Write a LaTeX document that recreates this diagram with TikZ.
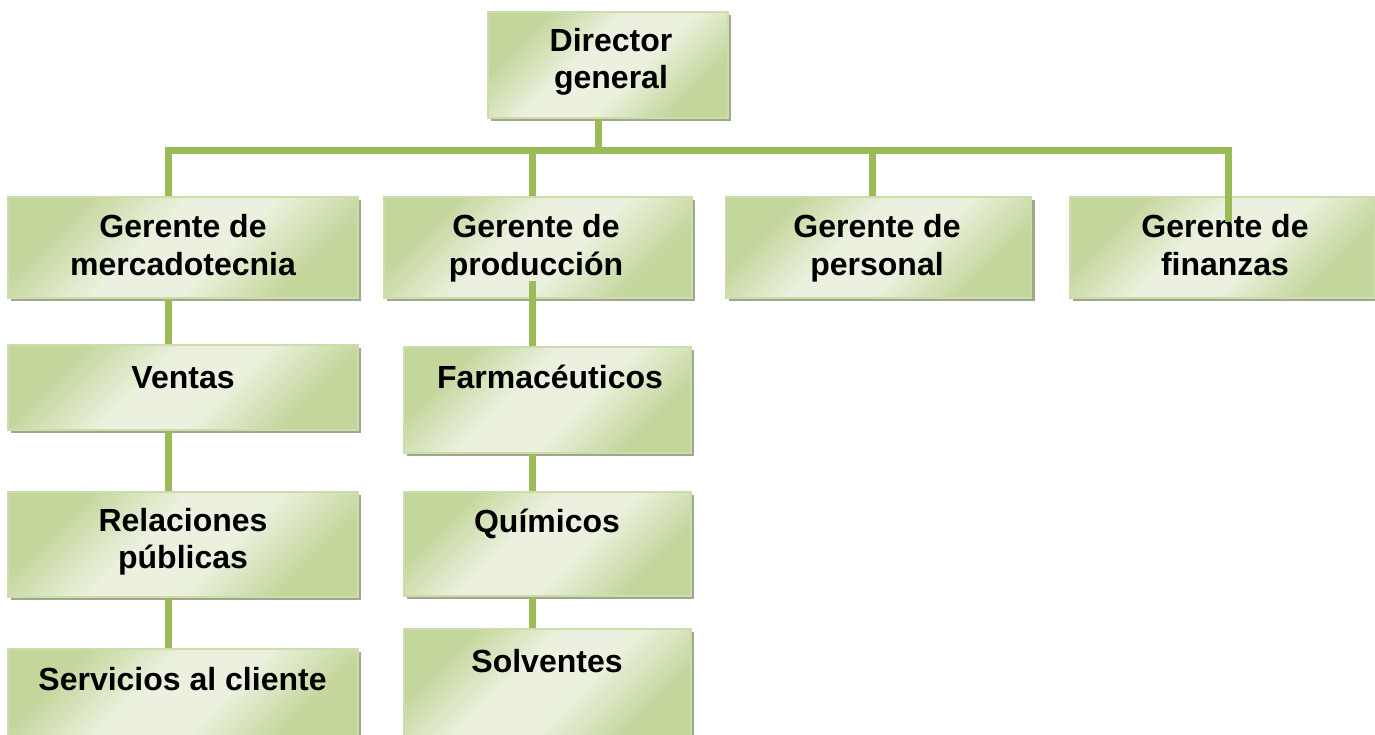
\documentclass[tikz,border=0pt]{standalone}
\usepackage{fontspec}
\setmainfont{Liberation Sans}
\usetikzlibrary{shadows}
\definecolor{glight}{HTML}{EBF1DE}
\definecolor{gdark}{HTML}{C3D69B}
\definecolor{gborder}{HTML}{CCDCAB}
\definecolor{gshadow}{HTML}{A0A78D}
\definecolor{gline}{HTML}{9BBB59}
\pgfdeclarehorizontalshading{gband}{100bp}{color(0bp)=(gdark); color(27bp)=(gdark); color(43bp)=(glight); color(57bp)=(glight); color(73bp)=(gdark); color(100bp)=(gdark)}
\newcommand{\lst}{\rule[-11pt]{0pt}{37pt}}
\tikzset{
  orgbox/.style={rectangle, inner sep=0pt, draw=gborder, line width=1.2pt,
    shading=gband, shading angle=-45,
    drop shadow={shadow xshift=3pt, shadow yshift=-3pt, fill=gshadow, opacity=1}},
  txt/.style={inner sep=0pt, align=center, font=\bfseries\fontsize{32}{37}\selectfont},
  conn/.style={draw=gline, line width=7pt, line join=miter}
}
\begin{document}
\begin{tikzpicture}[x=1pt,y=-1pt]
\useasboundingbox (0,0) rectangle (1375,735);
% boxes
\node[orgbox, minimum width=240pt, minimum height=106pt] (dir) at (608,65) {};
\node[orgbox, minimum width=350pt, minimum height=101pt] (mer) at (183,247.5) {};
\node[orgbox, minimum width=308pt, minimum height=101pt] (prod) at (538,247.5) {};
\node[orgbox, minimum width=306pt, minimum height=101pt] (per) at (878.5,247.5) {};
\node[orgbox, minimum width=305pt, minimum height=101pt] (fin) at (1222.5,247.5) {};
\node[orgbox, minimum width=350pt, minimum height=85pt] (ven) at (183,387.5) {};
\node[orgbox, minimum width=350pt, minimum height=105pt] (rel) at (183,544.5) {};
\node[orgbox, minimum width=350pt, minimum height=88pt] (serv) at (183,693) {};
\node[orgbox, minimum width=287pt, minimum height=106pt] (farm) at (547.5,400) {};
\node[orgbox, minimum width=287pt, minimum height=104pt] (quim) at (547.5,544) {};
\node[orgbox, minimum width=287pt, minimum height=108pt] (solv) at (547.5,683) {};
% texts
\node[txt] (dir-t) at (611,62.5) {\lst Director\\\lst general};
\node[txt] (mer-t) at (183,249) {\lst Gerente de\\\lst mercadotecnia};
\node[txt] (prod-t) at (536,249) {\lst Gerente de\\\lst producción};
\node[txt] (per-t) at (877,249) {\lst Gerente de\\\lst personal};
\node[txt] (fin-t) at (1225,249) {\lst Gerente de\\\lst finanzas};
\node[txt] (ven-t) at (183,380.5) {\lst Ventas};
\node[txt] (rel-t) at (183,542) {\lst Relaciones\\\lst públicas};
\node[txt] (serv-t) at (182.5,682.5) {\lst Servicios al cliente};
\node[txt] (farm-t) at (550,380.5) {\lst Farmacéuticos};
\node[txt] (quim-t) at (547,524.5) {\lst Químicos};
\node[txt] (solv-t) at (547,664.5) {\lst Solventes};
% connectors
\coordinate (busL) at (168,151);
\coordinate (busR) at (1228,151);
\draw[conn] ([xshift=-15pt]mer.north) -- (busL) -- (busR) -- ([xshift=5.5pt,yshift=-26pt]fin.north);
\draw[conn] ([xshift=-10pt]dir.south) -- ([xshift=-10pt]dir.south |- busL);
\draw[conn] ([xshift=-6pt]prod.north |- busL) -- ([xshift=-6pt]prod.north);
\draw[conn] ([xshift=-6pt]per.north |- busL) -- ([xshift=-6pt]per.north);
\draw[conn] ([xshift=-15pt]mer.south) -- ([xshift=-15pt]ven.north);
\draw[conn] ([xshift=-15pt]ven.south) -- ([xshift=-15pt]rel.north);
\draw[conn] ([xshift=-15pt]rel.south) -- ([xshift=-15pt]serv.north);
\draw[conn] ([xshift=-6pt,yshift=18pt]prod.south) -- ([xshift=-6pt]prod.south |- farm.north);
\draw[conn] ([xshift=-15.5pt]farm.south) -- ([xshift=-15.5pt]quim.north);
\draw[conn] ([xshift=-15.5pt]quim.south) -- ([xshift=-15.5pt]solv.north);
\end{tikzpicture}
\end{document}
